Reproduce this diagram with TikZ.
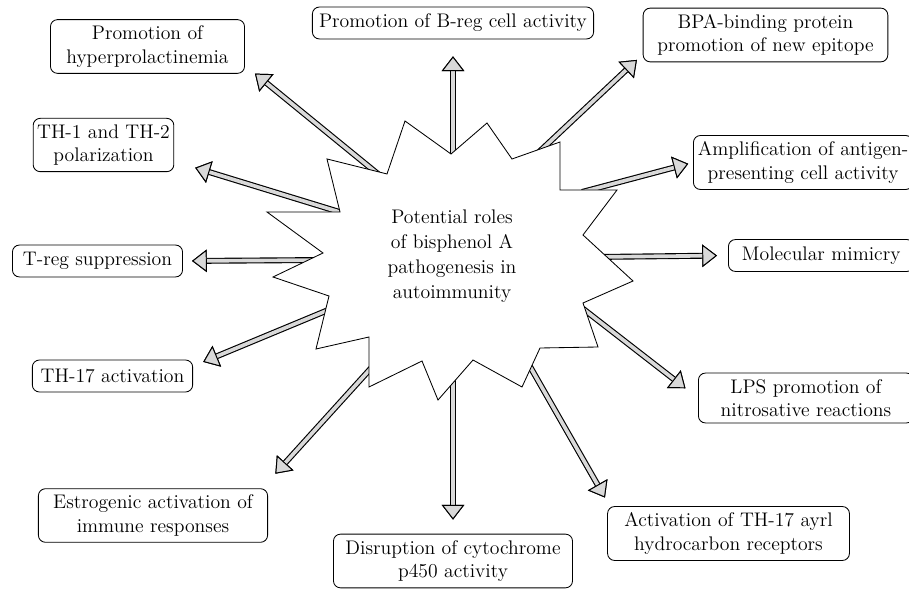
\documentclass[tikz,border=0pt]{standalone}
\usetikzlibrary{arrows.meta}
\begin{document}
\begin{tikzpicture}[x=0.025cm,y=-0.025cm,line width=0.6pt]
\tikzstyle{every node}+=[font=\fontsize{14}{16.5}\selectfont]
\tikzstyle{box}=[draw, rounded corners=5pt, align=center, inner xsep=2pt, inner ysep=4.5pt, minimum height=22.7pt]
\tikzstyle{arr}=[line width=4.2pt, -{Triangle[open, fill=gray!30, color=black, line width=0.7pt, length=10.5pt, width=16pt]}, postaction={draw=gray!30, line width=2.6pt}]
\useasboundingbox (0,0) rectangle (909,590);
\node [box, minimum width=138pt] (hyper) at (147.5,46.5) {Promotion of\\hyperprolactinemia};
\node [box, minimum width=200pt] (breg) at (453,23) {Promotion of B-reg cell activity};
\node [box, minimum width=174pt] (bpa) at (765.5,35) {BPA-binding protein\\promotion of new epitope};
\node [box, minimum width=100pt] (thpol) at (103.5,145) {TH-1 and TH-2\\polarization};
\node [box, minimum width=156pt, anchor=west] (amp) at (693,162.5) {Amplification of antigen-\\presenting cell activity};
\node [box, minimum width=121pt] (treg) at (97.5,261) {T-reg suppression};
\node [box, minimum width=132pt, anchor=west] (mimic) at (728,255.5) {Molecular mimicry};
\node [box, minimum width=114pt] (thact) at (112.5,376) {TH-17 activation};
\node [box, minimum width=153pt, anchor=west] (lps) at (698,398) {LPS promotion of\\nitrosative reactions};
\node [box, minimum width=163pt] (estro) at (153,515.5) {Estrogenic activation of\\immune responses};
\node [box, minimum width=170pt] (cyto) at (453,561) {Disruption of cytochrome\\p450 activity};
\node [box, minimum width=172pt] (ayrl) at (728.5,533.5) {Activation of TH-17 ayrl\\hydrocarbon receptors};
\coordinate (s-hyper) at (378,174);
\coordinate (s-breg) at (453,160);
\coordinate (s-bpa) at (539,152);
\coordinate (s-thpol) at (346,214);
\coordinate (s-amp) at (582,192);
\coordinate (s-treg) at (324,260);
\coordinate (s-mimic) at (594,257);
\coordinate (s-thact) at (333,308);
\coordinate (s-lps) at (582,308);
\coordinate (s-estro) at (373,366);
\coordinate (s-cyto) at (453,377);
\coordinate (s-ayrl) at (528,363);
\draw [arr, shorten >=9.2pt] (s-hyper) -- (hyper.-11);
\draw [arr, shorten >=12pt] (s-breg) -- (breg.south);
\draw [arr, shorten >=5.7pt] (s-bpa) -- (bpa.189.5);
\draw [arr, shorten >=15.6pt] (s-thpol) -- (thpol.-13.2);
\draw [arr, shorten >=3.5pt] (s-amp) -- (amp.west);
\draw [arr, shorten >=6.4pt] (s-treg) -- (treg.east);
\draw [arr, shorten >=7.8pt] (s-mimic) -- (mimic.west);
\draw [arr, shorten >=7.8pt] (s-thact) -- (thact.7.1);
\draw [arr, shorten >=11.3pt] (s-lps) -- (lps.west);
\draw [arr, shorten >=14pt] (s-estro) -- (estro.14.3);
\draw [arr, shorten >=10pt] (s-cyto) -- (cyto.north);
\draw [arr, shorten >=7pt] (s-ayrl) -- (ayrl.167.4);
\filldraw [fill=white] (267,212) -- (340,212) -- (327,159) -- (387,174) -- (405,121) -- (451,154) -- (487,123) -- (512,159) -- (560,142) -- (560,190) -- (617,190) -- (583,235) -- (633,281) -- (583,303) -- (598,347) -- (540,348) -- (522,387) -- (473,360) -- (438,400) -- (422,361) -- (369,387) -- (369,337) -- (316,349) -- (329,296) -- (273,277) -- (323,253) -- cycle;
\node [align=center, font=\fontsize{14}{17.7}\selectfont] (core) at (452,256) {Potential roles\\of bisphenol A\\pathogenesis in\\autoimmunity};
\end{tikzpicture}
\end{document}
